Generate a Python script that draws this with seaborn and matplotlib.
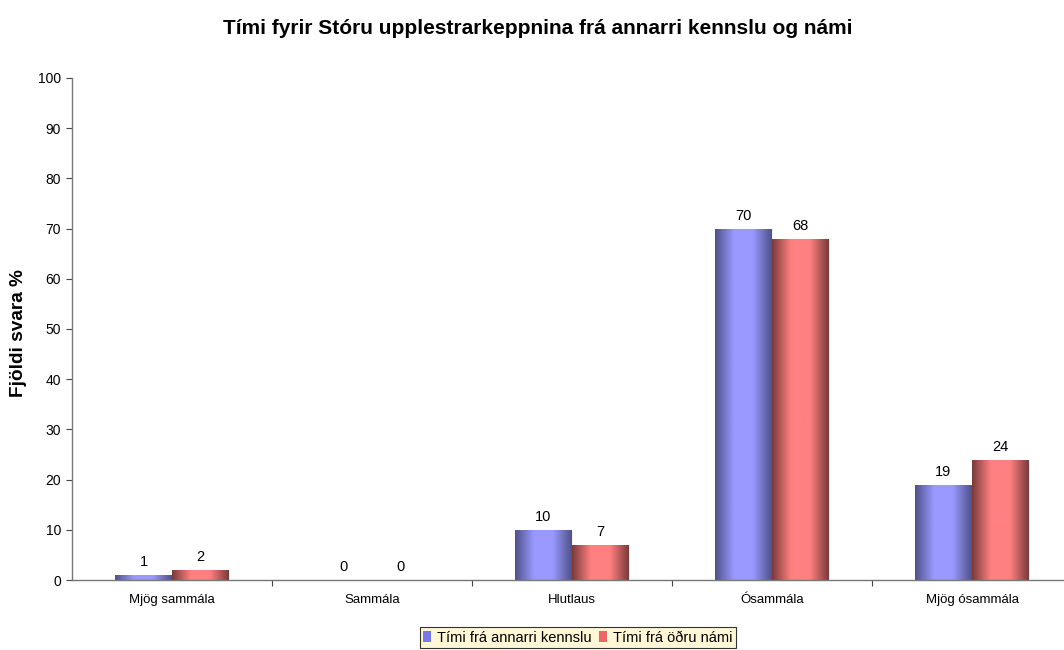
import numpy as np
import pandas as pd
import matplotlib
matplotlib.use("Agg")
import matplotlib.pyplot as plt
import seaborn as sns
from matplotlib.colors import LinearSegmentedColormap
from matplotlib.patches import Patch

categories = ["Mjög sammála", "Sammála", "Hlutlaus", "Ósammála", "Mjög ósammála"]
series_names = ["Tími frá annarri kennslu", "Tími frá öðru námi"]
values_annarri = [1, 0, 10, 70, 19]
values_odru = [2, 0, 7, 68, 24]
title = "Tími fyrir Stóru upplestrarkeppnina frá annarri kennslu og námi"
ylabel = "Fjöldi svara %"
yticks = [0, 10, 20, 30, 40, 50, 60, 70, 80, 90, 100]

df = pd.DataFrame({
    "cat": categories * 2,
    "series": [series_names[0]] * 5 + [series_names[1]] * 5,
    "val": values_annarri + values_odru,
})

sns.set_theme(style="white")
plt.rcParams["font.family"] = ["Liberation Sans", "DejaVu Sans"]
plt.rcParams["text.color"] = "black"
plt.rcParams["axes.labelcolor"] = "black"
plt.rcParams["xtick.color"] = "black"
plt.rcParams["ytick.color"] = "black"

colors = ["#9999FF", "#FF8080"]
fig = plt.figure(figsize=(10.64, 6.5), dpi=100)
ax = fig.add_axes([72 / 1064, 70 / 650, 1000 / 1064, 502 / 650])

sns.barplot(data=df, x="cat", y="val", hue="series", order=categories,
            hue_order=series_names, palette=colors, width=0.57, ax=ax,
            saturation=1, legend=False, errorbar=None)

def shade_cmap(base, dark):
    return LinearSegmentedColormap.from_list("s", [dark, base, base, dark], N=256)

cmaps = [shade_cmap("#9999FF", "#50508A"), shade_cmap("#FF8080", "#7A3A3A")]
ax.set_xlim(-0.5, 4.5)
ax.set_ylim(0, 100)
grad = np.linspace(0, 1, 256).reshape(1, -1)
for ci, cont in enumerate(ax.containers):
    for p in cont.patches:
        x0, y0 = p.get_x(), p.get_y()
        w, h = p.get_width(), p.get_height()
        if h <= 0:
            continue
        p.set_edgecolor("white")
        p.set_linewidth(0.5)
        im = ax.imshow(grad, cmap=cmaps[ci], aspect="auto",
                       extent=[x0, x0 + w, y0, y0 + h], zorder=p.get_zorder() + 0.1)
        im.set_clip_path(p)
    ax.bar_label(cont, labels=[f"{v:g}" for v in cont.datavalues], padding=4,
                 fontsize=10.5, color="black")
ax.set_xlim(-0.5, 4.5)
ax.set_ylim(0, 100)

ax.set_yticks(yticks)
ax.set_xticks(range(len(categories)))
ax.set_xticklabels(categories, fontsize=9.5)
ax.tick_params(axis="y", labelsize=10, length=4, width=0.8, color="#444444", direction="out", left=True, pad=4)
ax.tick_params(axis="x", length=0, pad=10)
ax.set_xticks([i + 0.5 for i in range(len(categories) - 1)], minor=True)
ax.tick_params(axis="x", which="minor", length=4, width=0.8, color="#444444", direction="out", bottom=True)

for s in ["top", "right"]:
    ax.spines[s].set_visible(False)
for s in ["left", "bottom"]:
    ax.spines[s].set_color("#777777")
    ax.spines[s].set_linewidth(1.0)

ax.set_xlabel("")
ax.set_ylabel(ylabel, fontsize=13.7, fontweight="bold", ha="center", va="center")
ax.yaxis.set_label_coords((19 - 72) / 1000, (580 - 333) / 502)
fig.text(538 / 1064, 1 - 28 / 650, title, fontsize=15, fontweight="bold",
         ha="center", va="center")

handles = [Patch(facecolor=c, edgecolor="none") for c in ["#7777EE", "#EE6666"]]
leg = fig.legend(handles, series_names, loc="center", bbox_to_anchor=(578 / 1064, 1 - 637.5 / 650),
                 ncol=2, fontsize=10.5, frameon=True, fancybox=False, handlelength=0.55,
                 handleheight=0.75, handletextpad=0.4, columnspacing=0.5,
                 borderpad=0.25, borderaxespad=0)
leg.get_frame().set_facecolor("#FFF5CC")
leg.get_frame().set_edgecolor("black")
leg.get_frame().set_linewidth(0.8)

fig.savefig("out.png", dpi=100)
